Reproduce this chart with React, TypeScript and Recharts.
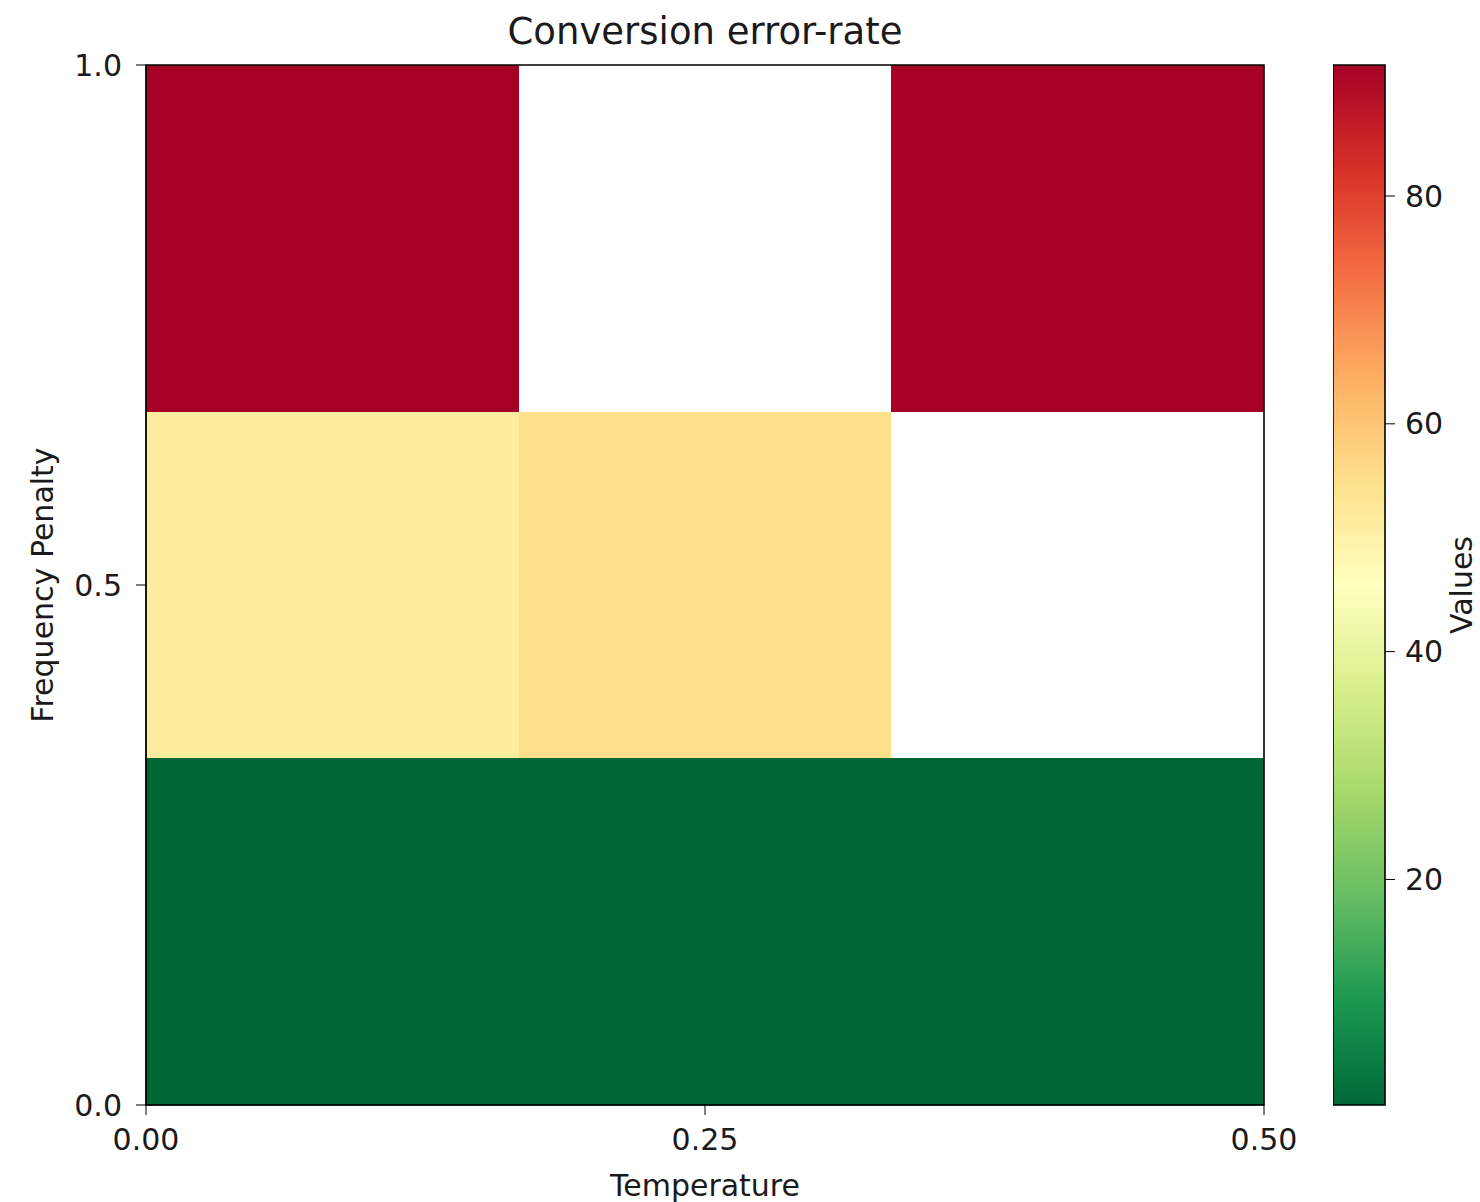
import { ComposedChart, XAxis, YAxis, ReferenceArea } from "recharts";

// grid axes
const temperatures = [0, 0.25, 0.5];
const penalties = [0, 0.5, 1.0];

// error rate per cell, one array per frequency penalty row (null = no value)
const ratesPenalty00 = [0.2, 0.2, 0.2];
const ratesPenalty05 = [51.5, 55.0, null];
const ratesPenalty10 = [91.5, null, 91.5];

const colorbarTicks = [20, 40, 60, 80];
const vmin = 0.2;
const vmax = 91.5;

// RdYlGn stops (0 -> red, 1 -> green)
const RDYLGN = ["#a50026", "#d73027", "#f46d43", "#fdae61", "#fee08b", "#ffffbf", "#d9ef8b", "#a6d96a", "#66bd63", "#1a9850", "#006837"];

const FONT = "'DejaVu Sans', sans-serif";
const INK = "#1a1a1a";

function hex(c: string) {
  return [1, 3, 5].map((i) => parseInt(c.slice(i, i + 2), 16));
}

// reversed colormap: low values green, high values red
function colorFor(v: number) {
  const t = Math.min(1, Math.max(0, (v - vmin) / (vmax - vmin)));
  const p = (1 - t) * (RDYLGN.length - 1);
  const i = Math.min(Math.floor(p), RDYLGN.length - 2);
  const f = p - i;
  const a = hex(RDYLGN[i]);
  const b = hex(RDYLGN[i + 1]);
  const c = a.map((x, k) => Math.round(x + (b[k] - x) * f));
  return `rgb(${c[0]},${c[1]},${c[2]})`;
}

const rows = [ratesPenalty00, ratesPenalty05, ratesPenalty10];
const xMin = temperatures[0];
const xMax = temperatures[temperatures.length - 1];
const yMin = penalties[0];
const yMax = penalties[penalties.length - 1];
const cw = (xMax - xMin) / temperatures.length;
const ch = (yMax - yMin) / penalties.length;

const cells = rows.flatMap((row, r) =>
  row.map((v, c) => ({
    x1: xMin + c * cw,
    x2: xMin + (c + 1) * cw,
    y1: yMin + r * ch,
    y2: yMin + (r + 1) * ch,
    v,
  }))
);

const tickStyle = { fill: INK, fontSize: 30, fontFamily: FONT };

function rotatedLabel(text: string, dx: number | null, absX: number | null) {
  return ({ viewBox }: any) => {
    const cx = absX !== null ? absX : (viewBox?.x ?? 0) + (dx ?? 0);
    const cy = (viewBox?.y ?? 0) + (viewBox?.height ?? 0) / 2;
    return (
      <text
        x={cx}
        y={cy}
        transform={`rotate(-90 ${cx} ${cy})`}
        textAnchor="middle"
        dominantBaseline="central"
        fill={INK}
        fontSize={30}
        fontFamily={FONT}
      >
        {text}
      </text>
    );
  };
}

export default function App() {
  return (
    <div style={{ position: "absolute", left: 0, top: 0, width: 1480, height: 1202, background: "#fff", fontFamily: FONT }}>
      <div
        style={{
          position: "absolute",
          left: 146,
          width: 1118,
          top: 10,
          textAlign: "center",
          fontSize: 37,
          color: INK,
          lineHeight: "44px",
        }}
      >
        Conversion error-rate
      </div>

      <div style={{ position: "absolute", left: 0, top: 0 }}>
        <ComposedChart width={1480} height={1202} margin={{ top: 65, right: 216, bottom: 0, left: 0 }}>
          <XAxis
            type="number"
            dataKey="x"
            domain={[xMin, xMax]}
            ticks={temperatures}
            interval={0}
            allowDataOverflow
            height={97}
            tickSize={10}
            tickMargin={14}
            tick={tickStyle}
            tickLine={{ stroke: "#000" }}
            axisLine={{ stroke: "#000" }}
            tickFormatter={(v: number) => v.toFixed(2)}
            label={{ value: "Temperature", position: "insideBottom", offset: 6, fill: INK, fontSize: 30, fontFamily: FONT }}
          />
          <YAxis
            type="number"
            dataKey="y"
            domain={[yMin, yMax]}
            ticks={penalties}
            interval={0}
            allowDataOverflow
            width={146}
            tickSize={10}
            tickMargin={14}
            tick={tickStyle}
            tickLine={{ stroke: "#000" }}
            axisLine={{ stroke: "#000" }}
            tickFormatter={(v: number) => v.toFixed(1)}
            label={{ content: rotatedLabel("Frequency Penalty", 42, null) }}
          />
          {cells
            .filter((c) => c.v !== null)
            .map((c, i) => (
              <ReferenceArea
                key={i}
                x1={c.x1}
                x2={c.x2}
                y1={c.y1}
                y2={c.y2}
                fill={colorFor(c.v as number)}
                fillOpacity={1}
                stroke="none"
                shapeRendering="crispEdges"
                ifOverflow="visible"
              />
            ))}
          <ReferenceArea x1={xMin} x2={xMax} y1={yMin} y2={yMax} fill="none" stroke="#000" strokeWidth={1.6} ifOverflow="visible" />
        </ComposedChart>
      </div>

      <div style={{ position: "absolute", left: 1333, top: 0 }}>
        <ComposedChart width={147} height={1202} margin={{ top: 65, right: 0, bottom: 97, left: 0 }}>
          <defs>
            <linearGradient id="cbar" x1="0" y1="0" x2="0" y2="1">
              {RDYLGN.map((c, i) => (
                <stop key={i} offset={`${(i / (RDYLGN.length - 1)) * 100}%`} stopColor={c} />
              ))}
            </linearGradient>
          </defs>
          <XAxis type="number" dataKey="x" domain={[0, 1]} height={0} tick={false} tickLine={false} axisLine={false} allowDataOverflow />
          <YAxis
            type="number"
            dataKey="y"
            orientation="right"
            domain={[vmin, vmax]}
            ticks={colorbarTicks}
            interval={0}
            allowDataOverflow
            width={95}
            tickSize={10}
            tickMargin={10}
            tick={tickStyle}
            tickLine={{ stroke: "#000" }}
            axisLine={false}
            label={{ content: rotatedLabel("Values", null, 128) }}
          />
          <ReferenceArea x1={0} x2={1} y1={vmin} y2={vmax} fill="url(#cbar)" fillOpacity={1} stroke="#000" strokeWidth={1.6} ifOverflow="visible" />
        </ComposedChart>
      </div>
    </div>
  );
}
